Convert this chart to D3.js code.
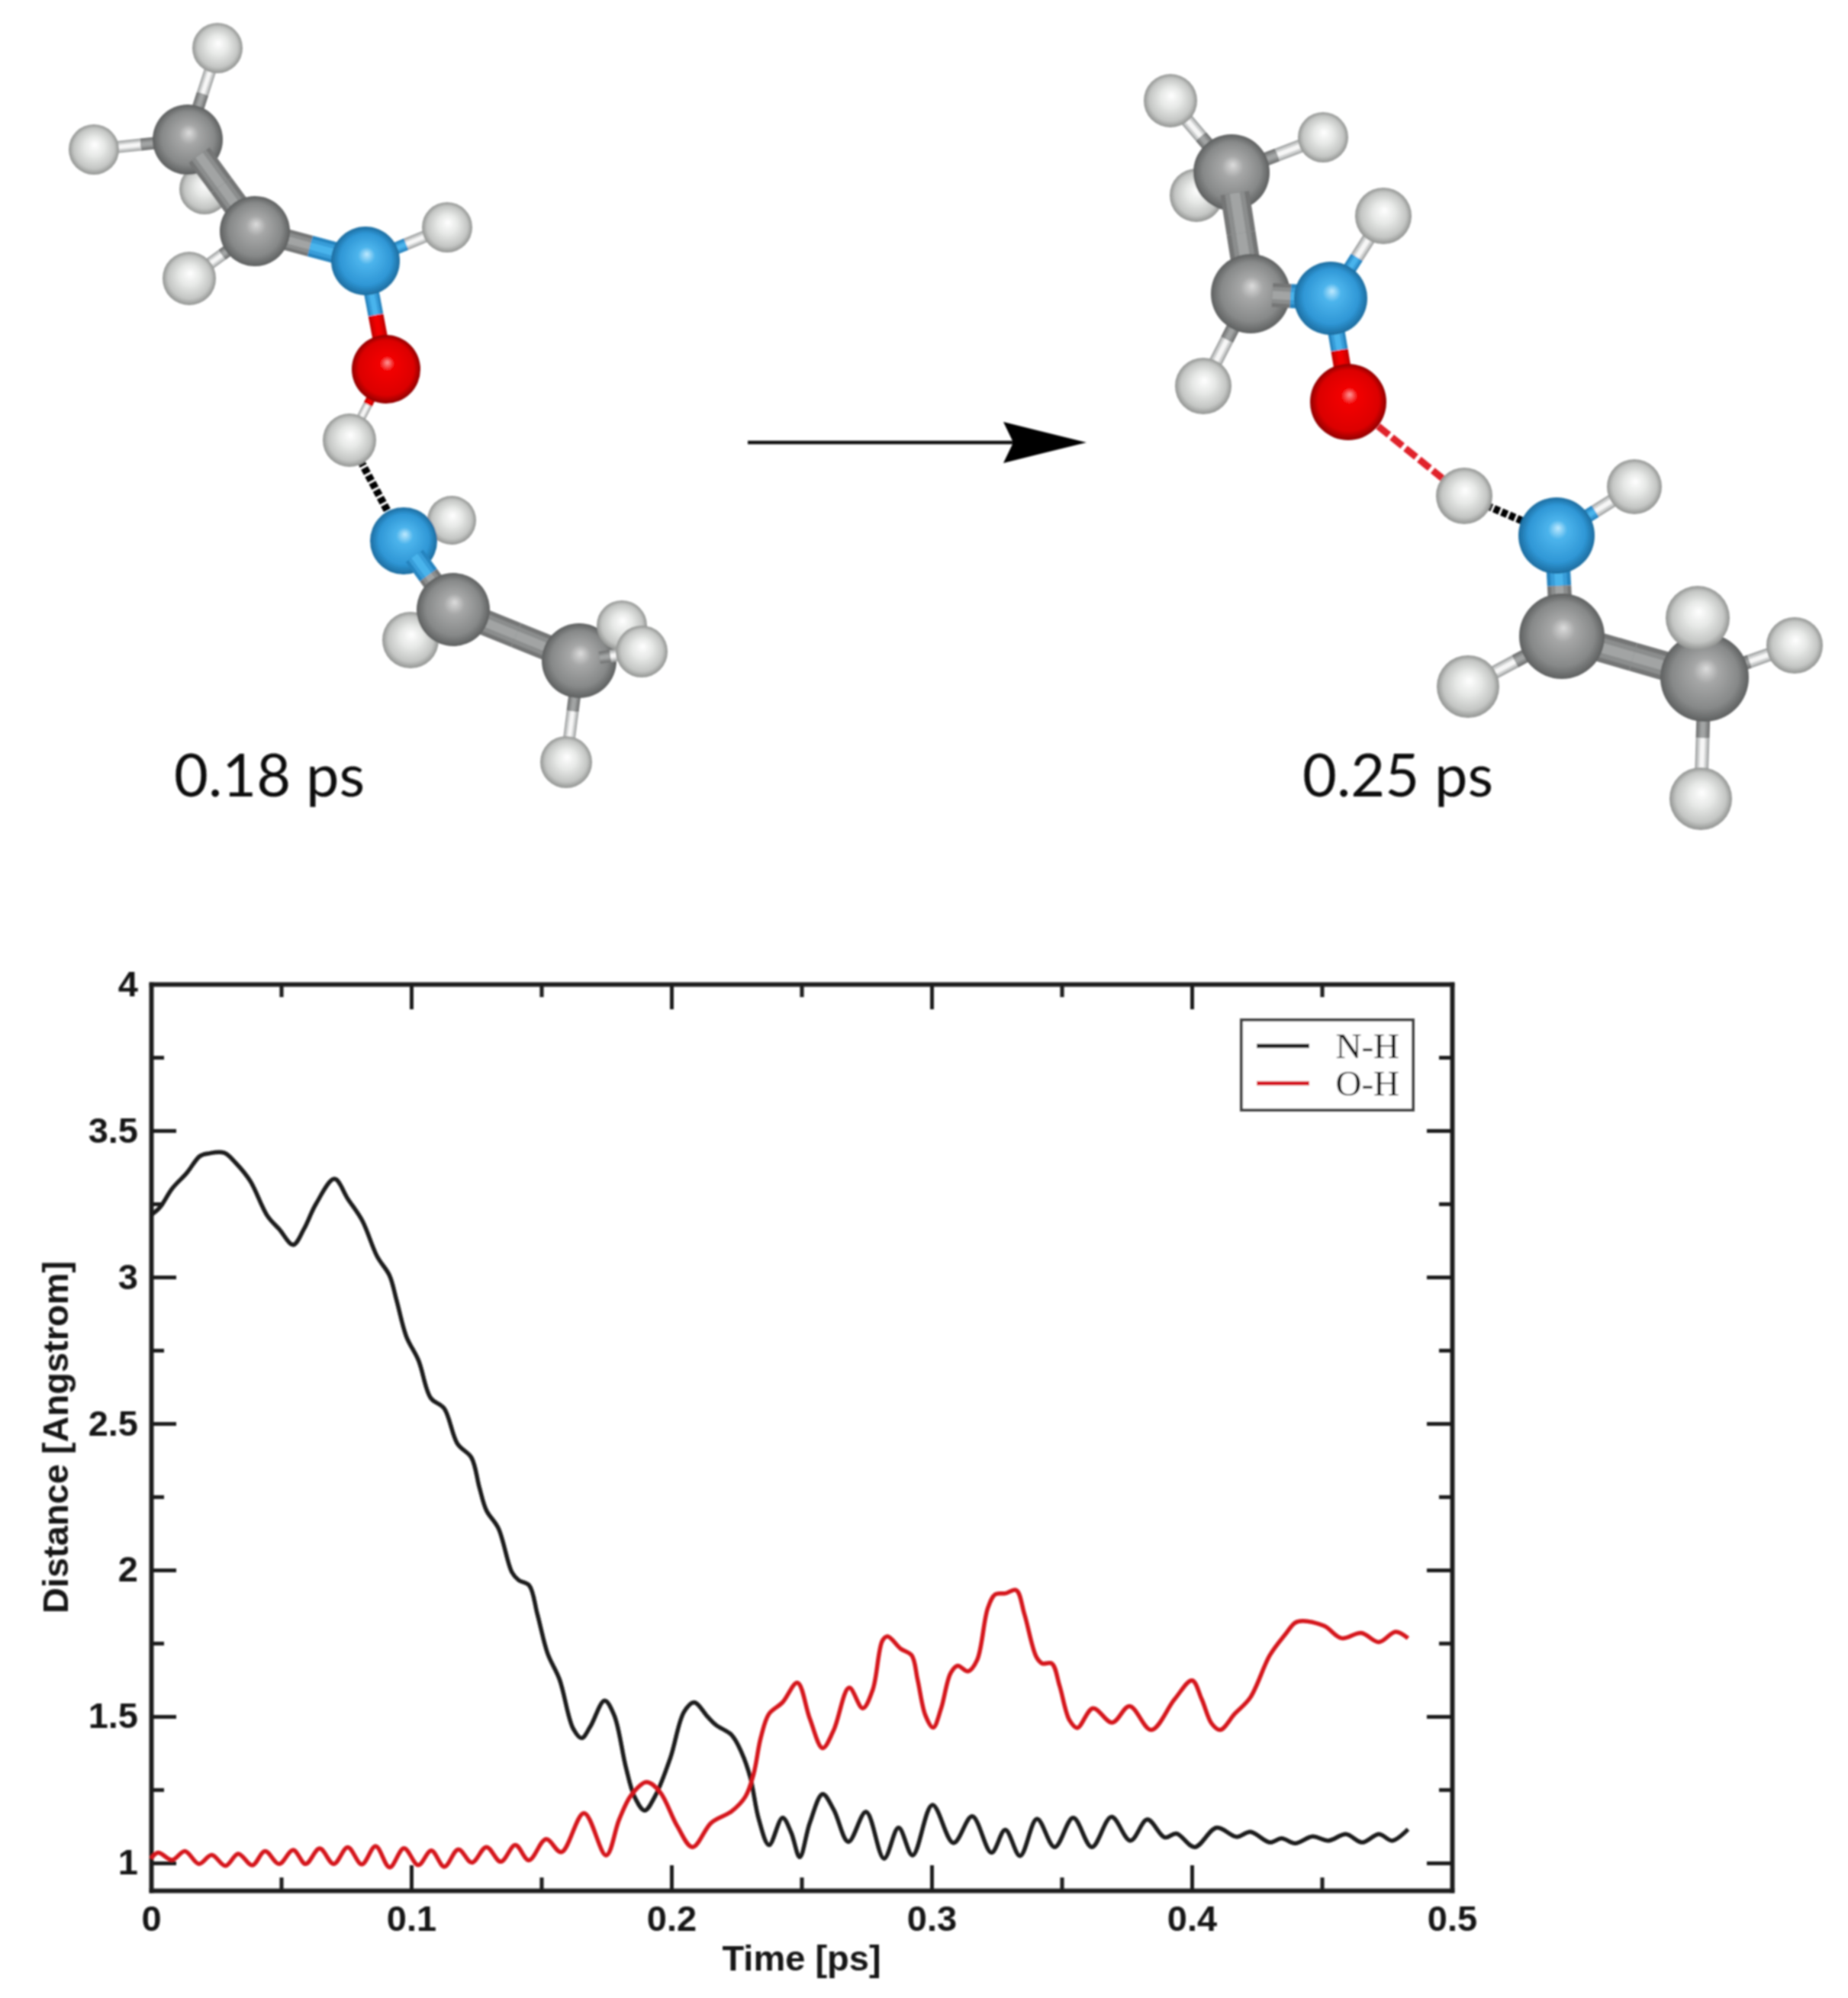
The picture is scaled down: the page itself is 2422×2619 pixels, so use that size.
<!DOCTYPE html>
<html>
<head>
<meta charset="utf-8">
<script src="https://cdn.jsdelivr.net/npm/d3@7"></script>
<style>
  html, body { margin: 0; background: #fff; }
  svg { display: block; }
</style>
</head>
<body>
<script>
const width = 2422
const height = 2619

// N-H distance
const timeNH = [0,.0034,.0081,.0137,.0188,.0221,.0281,.0325,.0381,.0447,.0493,.0546,.0587,.0634,.0705,.0756,.0812,.0869,.0916,.0944,.0981,.1028,.1075,.1126,.1178,.1231,.1262,.1289,.1335,.1387,.1413,.1453,.1485,.1524,.157,.1622,.1655,.1688,.1743,.178,.1825,.1858,.1897,.1936,.1996,.2048,.2087,.214,.2172,.2231,.227,.2303,.2336,.2375,.2427,.246,.2493,.2532,.2581,.2624,.268,.2748,.2817,.2873,.2927,.3003,.3084,.3156,.323,.3283,.334,.3405,.3473,.3544,.3616,.3691,.3764,.3829,.3896,.3941,.4011,.4095,.4173,.4225,.43,.4345,.4397,.4464,.4525,.4592,.4655,.4719,.4771,.4831]
const distNH = [3.212,3.238,3.302,3.355,3.413,3.422,3.424,3.39,3.328,3.209,3.163,3.11,3.163,3.25,3.335,3.267,3.192,3.07,3.006,2.919,2.797,2.715,2.587,2.552,2.43,2.384,2.281,2.203,2.142,1.992,1.965,1.948,1.848,1.715,1.626,1.459,1.426,1.465,1.554,1.504,1.326,1.226,1.179,1.226,1.359,1.515,1.548,1.498,1.47,1.437,1.376,1.292,1.148,1.061,1.154,1.104,1.02,1.137,1.235,1.181,1.072,1.174,1.015,1.12,1.026,1.198,1.068,1.159,1.035,1.113,1.024,1.15,1.054,1.154,1.054,1.157,1.076,1.148,1.087,1.1,1.054,1.12,1.089,1.106,1.07,1.084,1.067,1.09,1.076,1.098,1.07,1.098,1.076,1.115]

// O-H distance
const timeOH = [0,.0027,.0081,.013,.0184,.0233,.0286,.0335,.0389,.0438,.0492,.0546,.0594,.0648,.0702,.0756,.081,.0863,.0917,.0972,.1027,.1077,.1127,.1181,.1233,.1289,.1344,.14,.1452,.1518,.1577,.1664,.1749,.1799,.1845,.1904,.1956,.2022,.2081,.2153,.2231,.2284,.2316,.2343,.2375,.2427,.2484,.2532,.2581,.2624,.2683,.2735,.2774,.2811,.2831,.2881,.2923,.2946,.2976,.3006,.3036,.3073,.31,.314,.3175,.3216,.3245,.3283,.3325,.3357,.3402,.3425,.3462,.3492,.353,.356,.362,.3694,.3761,.3844,.3934,.4001,.4038,.4076,.4109,.4165,.4225,.43,.436,.4397,.4427,.4509,.4576,.4651,.4719,.4783,.4831]
const distOH = [1.015,1.035,1.01,1.04,.9965,1.027,.99,1.031,.992,1.04,.9965,1.044,.9965,1.049,.9965,1.053,.995,1.057,.985,1.05,.9925,1.042,.987,1.046,1.001,1.054,1.004,1.061,1.009,1.081,1.037,1.17,1.026,1.148,1.231,1.276,1.242,1.126,1.054,1.137,1.176,1.226,1.304,1.426,1.509,1.548,1.615,1.492,1.392,1.454,1.598,1.528,1.592,1.759,1.773,1.731,1.709,1.626,1.504,1.462,1.526,1.648,1.673,1.654,1.693,1.87,1.917,1.92,1.931,1.848,1.704,1.681,1.681,1.604,1.487,1.461,1.528,1.479,1.535,1.454,1.559,1.623,1.559,1.476,1.454,1.509,1.565,1.709,1.781,1.82,1.826,1.809,1.767,1.785,1.754,1.789,1.767]

const xMajor = [0, .1, .2, .3, .4, .5]
const xMinor = [.05, .15, .25, .35, .45]
const yMajor = [1, 1.5, 2, 2.5, 3, 3.5, 4]
const yMinor = [1.25, 1.75, 2.25, 2.75, 3.25, 3.75]
const legendNames = ["N-H", "O-H"]
const lineColors = ["#1a1a1a", "#d5141c"]

// molecule snapshots: element, x, y, radius on the page
const leftAtoms = {
  H1: ["H", 285, 63, 33], H2: ["H", 123, 196, 33], C1: ["C", 246, 183, 46], H3: ["H", 268, 248, 33],
  C2: ["C", 334, 303, 46], H4: ["H", 248, 365, 35], N1: ["N", 479, 342, 45], H5: ["H", 586, 298, 33],
  O: ["O", 506, 484, 45], H6: ["H", 458, 577, 35], N2: ["N", 529, 709, 44], H7: ["H", 592, 682, 32],
  C3: ["C", 594, 799, 48], H8: ["H", 538, 839, 37], C4: ["C", 759, 866, 49], H9: ["H", 815, 820, 33],
  H10: ["H", 841, 854, 34], H11: ["H", 742, 999, 34]
}
const leftOrder = ["H3", "H1-C1", "H2-C1", "H1", "H2", "C1", "C1-C2", "H4-C2", "H4", "C2-N1", "C2", "N1-H5", "H5",
  "N1-O", "N1", "O-H6", "O", "H6~N2", "H6", "H7", "N2", "N2-C3", "H8", "C3-C4", "C3", "C4-H11", "H11", "C4", "H9", "C4-H10", "H10"]

const rightAtoms = {
  H1: ["H", 1534, 132, 35], H2: ["H", 1734, 180, 33], H3: ["H", 1568, 256, 35], C1: ["C", 1614, 226, 50],
  H4: ["H", 1813, 283, 37], C2: ["C", 1639, 385, 52], N1: ["N", 1744, 391, 48], H5: ["H", 1577, 506, 37],
  O: ["O", 1767, 527, 50], H6: ["H", 1919, 650, 37], H7: ["H", 2142, 638, 36], N2: ["N", 2040, 702, 50],
  C3: ["C", 2047, 834, 56], H8: ["H", 1924, 900, 41], H9: ["H", 2225, 810, 42], C4: ["C", 2234, 888, 58],
  H10: ["H", 2352, 846, 37], H11: ["H", 2229, 1047, 41]
}
const rightOrder = ["H3", "H1-C1", "H2-C1", "H1", "H2", "C1", "C1-C2", "C2-H5", "H5", "C2", "N1-H4", "H4", "C2-N1",
  "N1-O", "N1", "O~H6", "O", "H6~N2", "H6", "N2-H7", "H7", "N2-C3", "N2", "C3-H8", "H8", "C3-C4", "C3", "C4-H10", "C4-H11", "H10", "H11", "C4", "H9"]

const captions = [
  { text: "0.18 ps", x: 228, len: 250 },
  { text: "0.25 ps", x: 1707, len: 250 }
]

const svg = d3.select("body").append("svg")
    .attr("width", width)
    .attr("height", height)
    .attr("xmlns", "http://www.w3.org/2000/svg")

svg.append("rect")
    .attr("width", width)
    .attr("height", height)
    .style("fill", "white")

const defs = svg.append("defs")
defs.append("filter").attr("id", "soft")
    .attr("x", 0).attr("y", 0)
    .attr("filterUnits", "userSpaceOnUse")
    .attr("width", width).attr("height", height)
  .append("feGaussianBlur").attr("stdDeviation", 1.3)

const atomStops = {
  H: [[0, "#ffffff"], [.4, "#e6e8e6"], [.8, "#c4c6c4"], [1, "#929492"]],
  C: [[0, "#dcdcdc"], [.28, "#a6a7a7"], [.75, "#878989"], [1, "#5e6060"]],
  N: [[0, "#bfeaff"], [.25, "#4cb4ec"], [.75, "#2f97d6"], [1, "#1c6c9f"]],
  O: [[0, "#ff9a9a"], [.22, "#f20000"], [.8, "#dc0000"], [1, "#900000"]]
}
Object.keys(atomStops).forEach(el => {
  const grad = defs.append("radialGradient").attr("id", "atom" + el)
      .attr("cx", .5).attr("cy", .5).attr("r", .5).attr("fx", .52).attr("fy", .4)
  atomStops[el].forEach(s => grad.append("stop").attr("offset", s[0]).attr("stop-color", s[1]))
})

// outer, middle and inner colour of a stick, so it reads as a cylinder
const bondShade = {
  H: ["#a8aaaa", "#d0d2d2", "#f6f6f6"],
  C: ["#747676", "#8b8d8d", "#a2a4a4"],
  N: ["#2684bf", "#379dd9", "#4ab4ec"],
  O: ["#c40000", "#de0000", "#f00000"]
}
const bondWidth = { CC: 34, CN: 28, NC: 28, NO: 20, ON: 20, OH: 12, HO: 12 }

const root = svg.append("g").attr("filter", "url(#soft)")

const drawMolecule = (atoms, order, k) => {
  const g = root.append("g")
  order.forEach(item => {
    if (atoms[item]) {
      const a = atoms[item]
      g.append("circle")
          .attr("cx", a[1])
          .attr("cy", a[2])
          .attr("r", a[3])
          .style("fill", `url(#atom${a[0]})`)
      return
    }
    const dashed = item.includes("~")
    const [from, to] = item.split(dashed ? "~" : "-")
    const a = atoms[from]
    const b = atoms[to]
    const dx = b[1] - a[1]
    const dy = b[2] - a[2]
    const len = Math.hypot(dx, dy)
    // sticks start inside the atom, not at its centre
    const ax = a[1] + dx / len * a[3] * .55
    const ay = a[2] + dy / len * a[3] * .55
    const bx = b[1] - dx / len * b[3] * .55
    const by = b[2] - dy / len * b[3] * .55
    if (dashed) {
      const red = a[0] === "O"
      g.append("line")
          .attr("x1", ax).attr("y1", ay)
          .attr("x2", bx).attr("y2", by)
          .attr("stroke-dasharray", red ? "18 5" : "8 3")
          .style("stroke", red ? "#e0202c" : "#000")
          .style("stroke-width", red ? 9 : 10)
      return
    }
    const w = (bondWidth[a[0] + b[0]] || 16) * k
    const mx = (a[1] + b[1]) / 2
    const my = (a[2] + b[2]) / 2
    const half = [[a, ax, ay, mx, my], [b, mx, my, bx, by]]
    half.forEach(h => {
      const shade = bondShade[h[0][0]]
      const widths = [w, w * .68, w * .34]
      widths.forEach((sw, i) => {
        g.append("line").attr("x1", h[1]).attr("y1", h[2]).attr("x2", h[3]).attr("y2", h[4])
            .style("stroke", shade[i]).style("stroke-width", sw)
      })
    })
  })
}
drawMolecule(leftAtoms, leftOrder, 1)
drawMolecule(rightAtoms, rightOrder, 1.12)

root.selectAll(".caption").data(captions).join("text")
    .attr("class", "caption")
    .attr("x", d => d.x)
    .attr("y", 1044)
    .attr("textLength", d => d.len)
    .attr("lengthAdjust", "spacingAndGlyphs")
    .attr("font-family", "Lato")
    .attr("font-size", 78)
    .style("fill", "#111")
    .text(d => d.text)

// reaction arrow
root.append("line")
    .attr("x1", 980).attr("y1", 580).attr("x2", 1335).attr("y2", 580)
    .style("stroke", "#111").style("stroke-width", 4.5)
root.append("path")
    .attr("d", "M1424,580 L1315,553 L1328,580 L1315,607 Z")
    .style("fill", "#000")

// plot
const x = d3.scaleLinear().domain([0, .5]).range([198, 1903])
const y = d3.scaleLinear().domain([.906, 4]).range([2478, 1290])

const plot = root.append("g")

const drawAxis = (axis, values, size, tx, ty, labels, pad) => {
  const g = plot.append("g")
      .attr("transform", `translate(${tx},${ty})`)
      .call(axis.tickValues(values).tickSizeInner(size).tickSizeOuter(0).tickPadding(pad)
        .tickFormat(labels ? (d => d) : ""))
  g.select(".domain").style("stroke", "#1c1c1c").style("stroke-width", 5.5).style("stroke-linecap", "square")
  g.selectAll(".tick line").style("stroke", "#1c1c1c").style("stroke-width", 5)
  g.selectAll(".tick text")
      .attr("font-family", "Liberation Sans")
      .attr("font-weight", "bold")
      .attr("font-size", 47)
      .style("fill", "#141414")
  return g
}

drawAxis(d3.axisBottom(x), xMinor, -17, 0, y.range()[0], false, 0)
drawAxis(d3.axisTop(x), xMinor, -17, 0, y.range()[1], false, 0)
drawAxis(d3.axisLeft(y), yMinor, -17, x.range()[0], 0, false, 0)
drawAxis(d3.axisRight(y), yMinor, -17, x.range()[1], 0, false, 0)
drawAxis(d3.axisTop(x), xMajor, -33, 0, y.range()[1], false, 0)
drawAxis(d3.axisRight(y), yMajor, -33, x.range()[1], 0, false, 0)
drawAxis(d3.axisBottom(x), xMajor, -33, 0, y.range()[0], true, 20)
drawAxis(d3.axisLeft(y), yMajor, -33, x.range()[0], 0, true, 17)

const line = d3.line()
    .x(d => x(d[0]))
    .y(d => y(d[1]))
    .curve(d3.curveCatmullRom.alpha(.5))

const series = [d3.zip(timeNH, distNH), d3.zip(timeOH, distOH)]
series.forEach((s, i) => {
  plot.append("path")
      .datum(s)
      .attr("d", line)
      .style("fill", "none")
      .style("stroke", lineColors[i])
      .style("stroke-width", 5.5)
      .style("stroke-linejoin", "round")
})

plot.append("text")
    .attr("x", (x.range()[0] + x.range()[1]) / 2)
    .attr("y", 2583)
    .attr("text-anchor", "middle")
    .attr("font-family", "Liberation Sans")
    .attr("font-weight", "bold")
    .attr("font-size", 47)
    .style("fill", "#141414")
    .text("Time [ps]")

plot.append("text")
    .attr("transform", `translate(89,${(y.range()[0] + y.range()[1]) / 2}) rotate(-90)`)
    .attr("text-anchor", "middle")
    .attr("font-family", "Liberation Sans")
    .attr("font-weight", "bold")
    .attr("font-size", 47)
    .style("fill", "#141414")
    .text("Distance [Angstrom]")

// legend
const legend = plot.append("g")
legend.append("rect")
    .attr("x", 1627).attr("y", 1337).attr("width", 225).attr("height", 118)
    .style("fill", "white").style("stroke", "#444").style("stroke-width", 4)
legendNames.forEach((name, i) => {
  const ly = 1371 + i * 49
  legend.append("line")
      .attr("x1", 1647).attr("y1", ly).attr("x2", 1716).attr("y2", ly)
      .style("stroke", lineColors[i]).style("stroke-width", 5.5)
  legend.append("text")
      .attr("x", 1834)
      .attr("y", ly + 16)
      .attr("text-anchor", "end")
      .attr("font-family", "Liberation Serif")
      .attr("font-size", 47)
      .style("fill", "#111")
      .text(name)
})
</script>
</body>
</html>
